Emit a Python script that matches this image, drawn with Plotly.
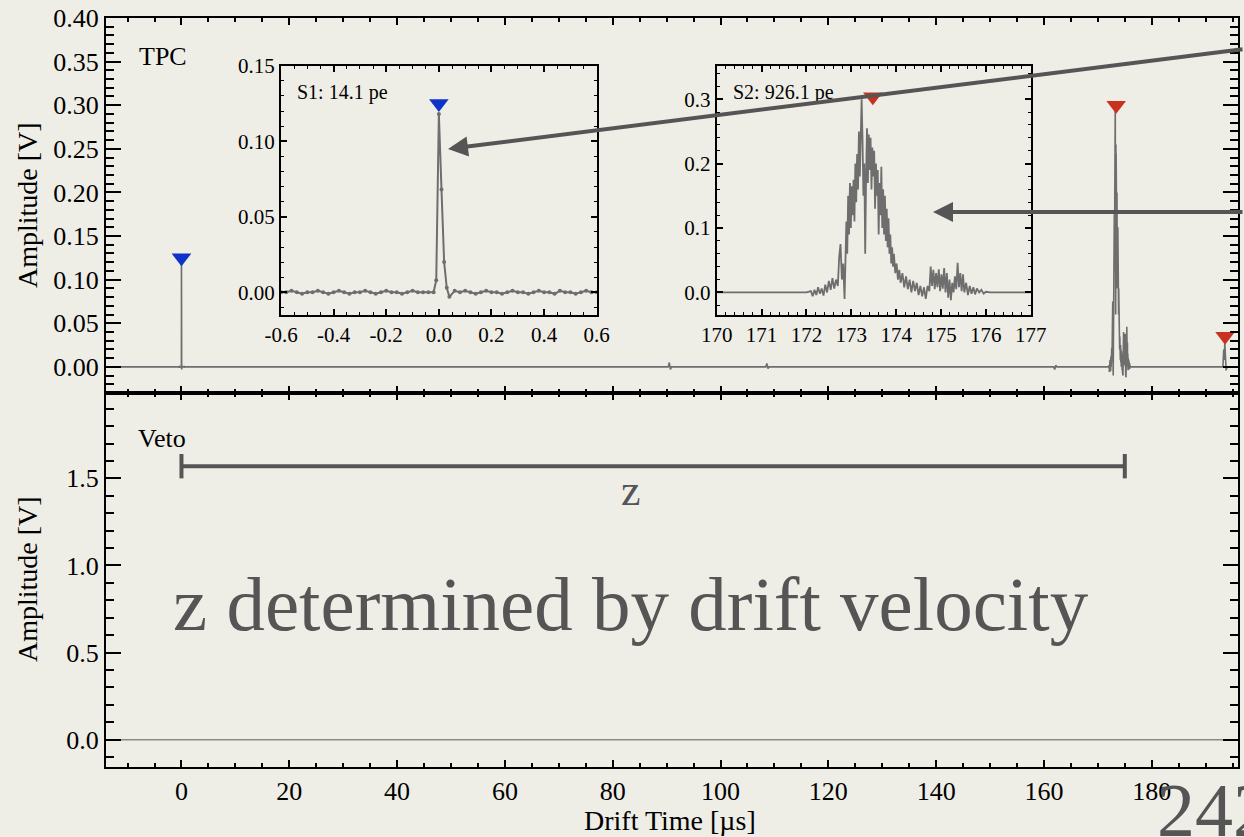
import plotly.graph_objects as go

# ---------------- data ----------------
# S1 pulse (inset 1 and main TPC trace), time in us, amplitude in V
s1_t = [-0.60, -0.58, -0.56, -0.54, -0.52, -0.50, -0.48, -0.46, -0.44, -0.42,
        -0.40, -0.38, -0.36, -0.34, -0.32, -0.30, -0.28, -0.26, -0.24, -0.22,
        -0.20, -0.18, -0.16, -0.14, -0.12, -0.10, -0.08, -0.06, -0.04, -0.02,
        -0.01, 0.00, 0.01, 0.02, 0.03, 0.04, 0.06, 0.08, 0.10, 0.12,
        0.14, 0.16, 0.18, 0.20, 0.22, 0.24, 0.26, 0.28, 0.30, 0.32,
        0.34, 0.36, 0.38, 0.40, 0.42, 0.44, 0.46, 0.48, 0.50, 0.52,
        0.54, 0.56, 0.58, 0.60]
s1_v = [0.000, 0.000, 0.001, 0.000, -0.001, 0.000, 0.000, 0.001, 0.000, -0.001,
        0.000, 0.001, 0.000, -0.001, 0.000, 0.000, 0.001, 0.000, -0.001, 0.000,
        0.001, 0.000, 0.000, -0.001, 0.000, 0.001, 0.000, 0.000, 0.000, 0.000,
        0.008, 0.118, 0.068, 0.020, 0.003, -0.003, 0.001, 0.000, 0.001, 0.000,
        -0.001, 0.000, 0.001, 0.000, 0.000, -0.001, 0.000, 0.001, 0.000, 0.000,
        -0.001, 0.000, 0.001, 0.000, 0.000, -0.001, 0.001, 0.000, 0.000, -0.001,
        0.000, 0.001, 0.000, 0.000]

# S2 pulse (inset 2 and main TPC trace)
s2_t = [170.00, 172.00, 172.10, 172.14, 172.18, 172.22, 172.26, 172.30, 172.34, 172.38,
        172.42, 172.46, 172.50, 172.54, 172.58, 172.62, 172.66, 172.70, 172.73, 172.76,
        172.79, 172.82, 172.85, 172.87, 172.89, 172.91, 172.93, 172.95, 172.97, 172.99,
        173.01, 173.03, 173.05, 173.07, 173.09, 173.11, 173.13, 173.15, 173.17, 173.19,
        173.21, 173.23, 173.25, 173.27, 173.29, 173.31, 173.33, 173.35, 173.37, 173.39,
        173.41, 173.43, 173.45, 173.47, 173.49, 173.51, 173.53, 173.55, 173.57, 173.59,
        173.61, 173.63, 173.65, 173.67, 173.69, 173.71, 173.73, 173.75, 173.77, 173.79,
        173.81, 173.83, 173.85, 173.87, 173.89, 173.91, 173.93, 173.95, 173.98, 174.01,
        174.04, 174.07, 174.10, 174.14, 174.18, 174.22, 174.26, 174.30, 174.34, 174.38,
        174.42, 174.46, 174.50, 174.54, 174.58, 174.62, 174.66, 174.70, 174.74, 174.77,
        174.80, 174.83, 174.86, 174.89, 174.92, 174.95, 174.98, 175.01, 175.04, 175.07,
        175.10, 175.13, 175.16, 175.19, 175.22, 175.25, 175.28, 175.31, 175.34, 175.37,
        175.40, 175.43, 175.46, 175.49, 175.52, 175.56, 175.60, 175.64, 175.68, 175.72,
        175.76, 175.80, 175.85, 175.90, 175.95, 176.00, 176.10, 177.00]
s2_v = [0.000, 0.000, 0.002, -0.006, 0.004, -0.004, 0.008, -0.002, 0.006, -0.005,
        0.012, 0.000, 0.018, 0.004, 0.022, 0.006, 0.020, 0.010, 0.055, 0.075,
        0.020, 0.045, -0.010, 0.060, 0.110, 0.060, 0.150, 0.090, 0.170, 0.100,
        0.165, 0.120, 0.175, 0.110, 0.200, 0.140, 0.215, 0.160, 0.250, 0.180,
        0.270, 0.300, 0.240, 0.150, 0.200, 0.060, 0.180, 0.255, 0.170, 0.245,
        0.190, 0.240, 0.160, 0.225, 0.180, 0.220, 0.130, 0.200, 0.150, 0.190,
        0.090, 0.170, 0.120, 0.195, 0.100, 0.160, 0.090, 0.150, 0.080, 0.130,
        0.070, 0.115, 0.060, 0.090, 0.045, 0.070, 0.040, 0.060, 0.030, 0.045,
        0.020, 0.035, 0.015, 0.030, 0.008, 0.025, 0.005, 0.020, 0.000, 0.018,
        0.002, 0.015, -0.004, 0.010, -0.006, 0.008, -0.010, 0.010, 0.002, 0.040,
        0.010, 0.035, 0.005, 0.030, 0.008, 0.036, 0.002, 0.028, 0.006, 0.038,
        0.000, 0.030, -0.008, 0.020, -0.012, 0.015, 0.000, 0.025, 0.005, 0.046,
        0.008, 0.030, 0.002, 0.028, 0.000, 0.015, -0.004, 0.010, -0.002, 0.008,
        -0.003, 0.006, 0.000, 0.004, -0.002, 0.001, 0.000, 0.000]

# other small pulses along the full TPC trace
blip_t = [90.3, 90.5, 90.7, 90.9, 108.4, 108.6, 108.8, 109.0, 161.8, 162.0, 162.2, 162.4]
blip_v = [0.000, 0.005, -0.003, 0.000, 0.000, 0.004, -0.002, 0.000, 0.000, -0.003, 0.002, 0.000]
tail_t = [193.2, 193.35, 193.45, 193.55, 193.65, 193.8, 194.0, 196.0]
tail_v = [0.000, 0.020, 0.008, 0.027, 0.005, -0.004, 0.000, 0.000]

# found-pulse markers
s1_peak = (0.0, 0.125)
s2_peak_main = (173.4, 0.300)
s2_peak_inset = (173.48, 0.304)
s3_peak_main = (193.6, 0.035)

# veto channel: flat
veto_t = [-14, 196]
veto_v = [0.0, 0.0]

# z bracket (drift from S1 to S2)
z_start, z_end, z_level = 0.0, 175.0, 1.57

# inset-1 x tick labels (hyphen minus, as in the original)
in1_xticks = [-0.6, -0.4, -0.2, 0.0, 0.2, 0.4, 0.6]
in1_xlabels = ["-0.6", "-0.4", "-0.2", "0.0", "0.2", "0.4", "0.6"]

# ---------------- build full TPC trace ----------------
tpc_t = [-14.0] + s1_t + blip_t + s2_t[1:-1] + tail_t
tpc_v = [0.0] + s1_v + blip_v + s2_v[1:-1] + tail_v

BG = "#EFEEE6"
GRAY = "#6e6e6e"
DARK = "#555555"
BLUE = "#0d33c9"
RED = "#c8321f"
FONT = "Liberation Serif"

fig = go.Figure()

# main TPC
fig.add_trace(go.Scatter(x=tpc_t, y=tpc_v, mode="lines", line=dict(color=GRAY, width=1.6),
                         xaxis="x", yaxis="y", showlegend=False))
fig.add_trace(go.Scatter(x=[s1_peak[0]], y=[s1_peak[1]], mode="markers",
                         marker=dict(symbol="triangle-down", color=BLUE, size=17),
                         xaxis="x", yaxis="y", showlegend=False))
fig.add_trace(go.Scatter(x=[s2_peak_main[0], s3_peak_main[0]], y=[s2_peak_main[1], s3_peak_main[1]],
                         mode="markers", marker=dict(symbol="triangle-down", color=RED, size=17),
                         xaxis="x", yaxis="y", showlegend=False))
# veto
fig.add_trace(go.Scatter(x=veto_t, y=veto_v, mode="lines", line=dict(color="#8a8a8a", width=1.5),
                         xaxis="x2", yaxis="y2", showlegend=False))
# inset S1
fig.add_trace(go.Scatter(x=s1_t, y=s1_v, mode="lines+markers", line=dict(color=GRAY, width=2),
                         marker=dict(color=GRAY, size=4),
                         xaxis="x3", yaxis="y3", showlegend=False))
fig.add_trace(go.Scatter(x=[s1_peak[0]], y=[s1_peak[1]], mode="markers",
                         marker=dict(symbol="triangle-down", color=BLUE, size=17),
                         xaxis="x3", yaxis="y3", showlegend=False))
# inset S2
fig.add_trace(go.Scatter(x=s2_t, y=s2_v, mode="lines", line=dict(color=GRAY, width=1.8),
                         xaxis="x4", yaxis="y4", showlegend=False))
fig.add_trace(go.Scatter(x=[s2_peak_inset[0]], y=[s2_peak_inset[1]], mode="markers",
                         marker=dict(symbol="triangle-down", color=RED, size=17),
                         xaxis="x4", yaxis="y4", showlegend=False))


def ax(**kw):
    d = dict(showline=True, linecolor="black", linewidth=2, mirror="ticks", ticks="inside",
             tickcolor="black", tickwidth=2, showgrid=False, zeroline=False,
             tickfont=dict(family=FONT, size=26, color="black"))
    d.update(kw)
    return d


Y_SPLIT = 0.4993
IN_Y = [0.6035, 0.9363]
INSET_FONT = dict(family=FONT, size=21, color="black")

fig.update_layout(
    width=1244, height=837,
    margin=dict(l=106, r=6, t=18, b=70, autoexpand=False),
    paper_bgcolor=BG, plot_bgcolor=BG,
    xaxis=ax(domain=[0, 1], anchor="y", range=[-14, 196], dtick=20, ticklen=7,
             showticklabels=False, minor=dict(dtick=5, ticklen=4, tickwidth=1.5, ticks="inside")),
    yaxis=ax(domain=[Y_SPLIT, 1], anchor="x", range=[-0.03, 0.40], dtick=0.05, tickformat=".2f",
             ticklen=15, minor=dict(dtick=0.01, ticklen=8, tickwidth=1.5, ticks="inside")),
    xaxis2=ax(domain=[0, 1], anchor="y2", range=[-14, 196], dtick=20, ticklen=7,
              minor=dict(dtick=5, ticklen=4, tickwidth=1.5, ticks="inside")),
    yaxis2=ax(domain=[0, Y_SPLIT], anchor="x2", range=[-0.157, 1.99], dtick=0.5, tickformat=".1f",
              ticklen=15, minor=dict(dtick=0.1, ticklen=8, tickwidth=1.5, ticks="inside")),
    xaxis3=ax(domain=[0.1546, 0.4335], anchor="y3", range=[-0.6, 0.6],
              tickmode="array", tickvals=in1_xticks, ticktext=in1_xlabels,
              ticklen=6, tickfont=INSET_FONT,
              minor=dict(dtick=0.05, ticklen=3, tickwidth=1, ticks="inside")),
    yaxis3=ax(domain=IN_Y, anchor="x3", range=[-0.015, 0.15], dtick=0.05, tickformat=".2f",
              ticklen=6, tickfont=INSET_FONT,
              minor=dict(dtick=0.01, ticklen=3, tickwidth=1, ticks="inside")),
    xaxis4=ax(domain=[0.5395, 0.8169], anchor="y4", range=[170, 177], dtick=1,
              ticklen=6, tickfont=INSET_FONT,
              minor=dict(dtick=0.2, ticklen=3, tickwidth=1, ticks="inside")),
    yaxis4=ax(domain=IN_Y, anchor="x4", range=[-0.035, 0.352], dtick=0.1, tickformat=".1f",
              ticklen=6, tickfont=INSET_FONT,
              minor=dict(dtick=0.02, ticklen=3, tickwidth=1, ticks="inside")),
)

# z bracket
fig.add_shape(type="line", xref="x2", yref="y2", x0=z_start, x1=z_end, y0=z_level, y1=z_level,
              line=dict(color=DARK, width=4))
for xx in (z_start, z_end):
    fig.add_shape(type="line", xref="x2", yref="y2", x0=xx, x1=xx, y0=z_level - 0.07, y1=z_level + 0.07,
                  line=dict(color=DARK, width=4))

ann = []
ann.append(dict(text="TPC", xref="paper", yref="paper", x=(137 - 106) / 1132, y=(767 - 57) / 749,
                xanchor="left", yanchor="middle", showarrow=False, font=dict(family=FONT, size=26, color="black")))
ann.append(dict(text="Veto", xref="paper", yref="paper", x=(136 - 106) / 1132, y=(767 - 438) / 749,
                xanchor="left", yanchor="middle", showarrow=False, font=dict(family=FONT, size=26, color="black")))
ann.append(dict(text="S1: 14.1 pe", xref="paper", yref="paper", x=(295 - 106) / 1132, y=(767 - 93) / 749,
                xanchor="left", yanchor="middle", showarrow=False, font=dict(family=FONT, size=20, color="black")))
ann.append(dict(text="S2: 926.1 pe", xref="paper", yref="paper", x=(731 - 106) / 1132, y=(767 - 93) / 749,
                xanchor="left", yanchor="middle", showarrow=False, font=dict(family=FONT, size=20, color="black")))
ann.append(dict(text="Amplitude [V]", xref="paper", yref="paper", x=(27 - 106) / 1132, y=(767 - 205) / 749,
                xanchor="center", yanchor="middle", textangle=-90, showarrow=False,
                font=dict(family=FONT, size=28, color="black")))
ann.append(dict(text="Amplitude [V]", xref="paper", yref="paper", x=(27 - 106) / 1132, y=(767 - 579) / 749,
                xanchor="center", yanchor="middle", textangle=-90, showarrow=False,
                font=dict(family=FONT, size=28, color="black")))
ann.append(dict(text="Drift Time [µs]", xref="paper", yref="paper", x=(670 - 106) / 1132, y=(767 - 820) / 749,
                xanchor="center", yanchor="middle", showarrow=False, font=dict(family=FONT, size=28, color="black")))
ann.append(dict(text="z", xref="paper", yref="paper", x=(631 - 106) / 1132, y=(767 - 490) / 749,
                xanchor="center", yanchor="middle", showarrow=False, font=dict(family=FONT, size=44, color=DARK)))
ann.append(dict(text="z determined by drift velocity", xref="paper", yref="paper", x=(171 - 106) / 1132,
                y=(767 - 604) / 749, xanchor="left", yanchor="middle", showarrow=False,
                font=dict(family=FONT, size=77, color=DARK)))
ann.append(dict(text="242", xref="paper", yref="paper", x=(1155 - 106) / 1132, y=(767 - 810) / 749,
                xanchor="left", yanchor="middle", showarrow=False, font=dict(family=FONT, size=76, color=DARK)))
# arrows
ann.append(dict(text="", xref="paper", yref="paper", x=(448 - 106) / 1132, y=(767 - 149) / 749,
                axref="pixel", ayref="pixel", ax=812, ay=-100, showarrow=True, arrowhead=2, arrowsize=1,
                arrowwidth=4, arrowcolor=DARK))
ann.append(dict(text="", xref="paper", yref="paper", x=(933 - 106) / 1132, y=(767 - 212) / 749,
                axref="pixel", ayref="pixel", ax=330, ay=0, showarrow=True, arrowhead=2, arrowsize=1,
                arrowwidth=4, arrowcolor=DARK))
fig.update_layout(annotations=ann)

fig.write_html("out.html")
